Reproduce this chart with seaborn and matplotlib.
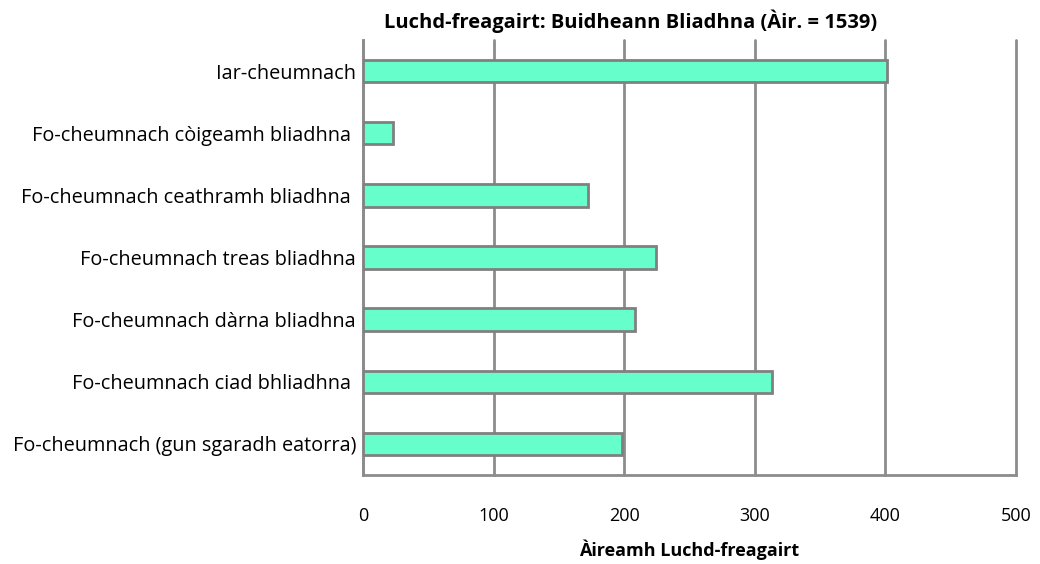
import matplotlib
matplotlib.use("Agg")
import matplotlib.pyplot as plt
import seaborn as sns
import pandas as pd

# categories top -> bottom and respondent counts
categories = [
    "Iar-cheumnach",
    "Fo-cheumnach còigeamh bliadhna ",
    "Fo-cheumnach ceathramh bliadhna ",
    "Fo-cheumnach treas bliadhna",
    "Fo-cheumnach dàrna bliadhna",
    "Fo-cheumnach ciad bhliadhna ",
    "Fo-cheumnach (gun sgaradh eatorra)",
]
counts = [401, 23, 172, 224, 208, 313, 198]
x_ticks = [0, 100, 200, 300, 400, 500]

df = pd.DataFrame({"group": categories, "count": counts})

sns.set_style("white")
plt.rcParams["font.family"] = ["Open Sans", "DejaVu Sans"]
plt.rcParams["text.color"] = "black"
plt.rcParams["xtick.color"] = "black"
plt.rcParams["ytick.color"] = "black"
plt.rcParams["axes.labelcolor"] = "black"

fig = plt.figure(figsize=(10.4, 5.64), dpi=100)
ax = fig.add_axes([0.349, 0.158, 0.628, 0.771])

sns.barplot(data=df, x="count", y="group", orient="h", color="#66FFCC",
            saturation=1, edgecolor="#808080", linewidth=2, width=0.36, ax=ax, zorder=3)

ax.set_xlim(0, 500)
ax.set_xticks(x_ticks)
ax.grid(axis="x", color="#8c8c8c", linewidth=2, zorder=0)
ax.grid(axis="y", visible=False)
for gl in ax.get_xgridlines():
    gl.set_clip_on(False)
for s in ["top", "right"]:
    ax.spines[s].set_visible(False)
for s in ["left", "bottom"]:
    ax.spines[s].set_color("#8c8c8c")
    ax.spines[s].set_linewidth(2)
ax.tick_params(axis="x", length=0, pad=23, labelsize=13)
ax.tick_params(axis="y", length=0, pad=5, labelsize=14.3)
ax.set_ylabel("")
ax.set_xlabel("Àireamh Luchd-freagairt", fontsize=13, fontweight="bold")
ax.xaxis.label.set_va("center")
ax.xaxis.set_label_coords(0.5, -0.172)

fig.text(0.606, 0.962, "Luchd-freagairt: Buidheann Bliadhna (Àir. = 1539)",
         ha="center", va="center", fontsize=14.5, fontweight="bold")

fig.savefig("out.png", dpi=100)
